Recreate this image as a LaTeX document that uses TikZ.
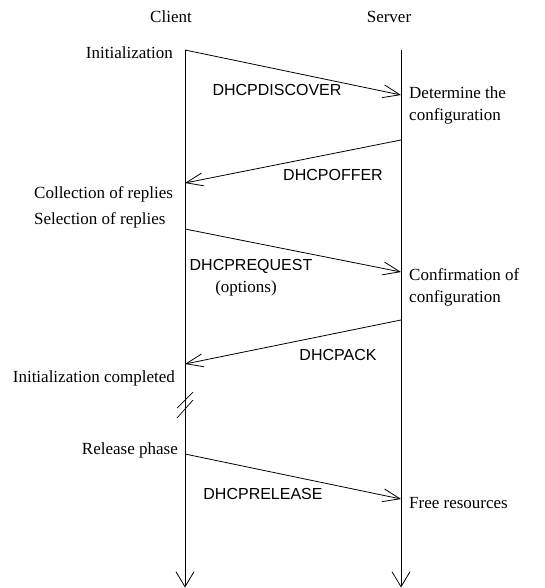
\documentclass[tikz,border=0pt]{standalone}
\usepackage{fontspec}
\setmainfont{Liberation Serif}
\setsansfont{Liberation Sans}
\usetikzlibrary{arrows.meta}
\begin{document}
\begin{tikzpicture}[x=1pt,y=-1pt,
  lbl/.style={inner sep=0pt,font=\fontsize{17}{20}\selectfont},
  msg/.style={lbl,font=\sffamily\fontsize{16}{20}\selectfont},
  lifeline/.style={line width=0.8pt,-{Straight Barb[length=15pt,width=18pt,line width=0.8pt]}},
  message/.style={line width=0.8pt,-{Straight Barb[length=17pt,width=13pt,line width=0.8pt]}},
  brk/.style={line width=0.7pt}]
\useasboundingbox (0,0) rectangle (544,588);
% lifelines
\coordinate (cTop) at (185,50);
\coordinate (cBot) at (185,587.5);
\coordinate (sTop) at (401,50);
\coordinate (sBot) at (401,587.5);
\draw[lifeline] (cTop) -- (cBot);
\draw[lifeline] (sTop) -- (sBot);
% headers
\node[lbl,anchor=base] (client) at (171,23) {Client};
\node[lbl,anchor=base] (server) at (389,23) {Server};
% message endpoints
\coordinate (c1) at (185,50);   \coordinate (s1) at (401,95);
\coordinate (s2) at (401,140);  \coordinate (c2) at (185,183);
\coordinate (c3) at (185,229);  \coordinate (s3) at (401,272);
\coordinate (s4) at (401,320);  \coordinate (c4) at (185,364);
\coordinate (c5) at (185,454);  \coordinate (s5) at (401,499);
\draw[message] (c1) -- (s1);
\draw[message] (s2) -- (c2);
\draw[message] (c3) -- (s3);
\draw[message] (s4) -- (c4);
\draw[message] (c5) -- (s5);
% message labels
\node[msg,anchor=base] (m1) at (277,96) {DHCPDISCOVER};
\node[msg,anchor=base] (m2) at (333,180) {DHCPOFFER};
\node[msg,anchor=base] (m3) at (251,270) {DHCPREQUEST};
\node[lbl,anchor=base] (m3b) at (246,292) {(options)};
\node[msg,anchor=base] (m4) at (338,360) {DHCPACK};
\node[msg,anchor=base] (m5) at (263,499) {DHCPRELEASE};
% client side texts
\node[lbl,anchor=base east] (t1) at (173,59) {Initialization};
\node[lbl,anchor=base west] (t2) at (34,198) {Collection of replies};
\node[lbl,anchor=base west] (t3) at (34,224) {Selection of replies};
\node[lbl,anchor=base east] (t4) at (175,382) {Initialization completed};
\node[lbl,anchor=base east] (t5) at (178,454) {Release phase};
% server side texts
\node[lbl,anchor=base west] (u1) at (409,99) {Determine the};
\node[lbl,anchor=base west] (u1b) at (409,121) {configuration};
\node[lbl,anchor=base west] (u2) at (409,280) {Confirmation of};
\node[lbl,anchor=base west] (u2b) at (409,302) {configuration};
\node[lbl,anchor=base west] (u3) at (409,508) {Free resources};
% break mark
\coordinate (b1a) at (177,408); \coordinate (b1b) at (193,392);
\coordinate (b2a) at (177,418); \coordinate (b2b) at (193,400);
\draw[brk] (b1a) -- (b1b);
\draw[brk] (b2a) -- (b2b);
\end{tikzpicture}
\end{document}
